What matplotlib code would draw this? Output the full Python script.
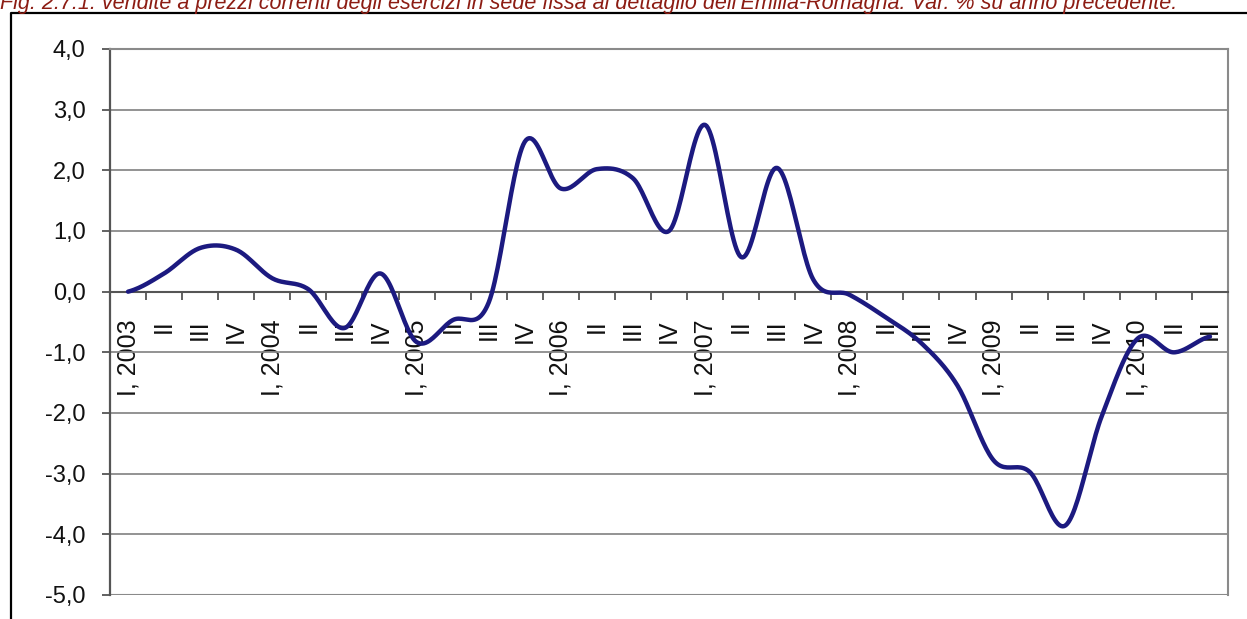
import matplotlib
matplotlib.use("Agg")
import matplotlib.pyplot as plt
from matplotlib.lines import Line2D
import numpy as np

plt.rcParams['font.family'] = ['Liberation Sans', 'DejaVu Sans']
plt.rcParams['axes.unicode_minus'] = False

# quarters I,2003 .. III,2010
quarters = ["I, 2003", "II", "III", "IV",
            "I, 2004", "II", "III", "IV",
            "I, 2005", "II", "III", "IV",
            "I, 2006", "II", "III", "IV",
            "I, 2007", "II", "III", "IV",
            "I, 2008", "II", "III", "IV",
            "I, 2009", "II", "III", "IV",
            "I, 2010", "II", "III"]
# var. % su anno precedente
values = [0.0, 0.3, 0.72, 0.69,
          0.22, 0.04, -0.6, 0.3,
          -0.83, -0.47, -0.18, 2.47,
          1.7, 2.02, 1.87, 1.0,
          2.75, 0.57, 2.04, 0.2,
          -0.05, -0.42, -0.85, -1.55,
          -2.78, -2.97, -3.85, -2.05,
          -0.77, -1.0, -0.74]
y_ticks = [-5, -4, -3, -2, -1, 0, 1, 2, 3, 4]

title = ("Fig. 2.7.1: vendite a prezzi correnti degli esercizi in sede fissa al dettaglio "
         "dell'Emilia-Romagna. Var. % su anno precedente.")


def smooth(x, y, n=24):
    # Catmull-Rom like the Excel "smoothed line"
    x = np.asarray(x, float)
    y = np.asarray(y, float)
    px = np.concatenate([[2 * x[0] - x[1]], x, [2 * x[-1] - x[-2]]])
    py = np.concatenate([[y[0]], y, [y[-1]]])
    xs, ys = [], []
    t = np.linspace(0, 1, n, endpoint=False)
    for i in range(1, len(px) - 2):
        for p, out in ((px, xs), (py, ys)):
            p0, p1, p2, p3 = p[i - 1], p[i], p[i + 1], p[i + 2]
            out.extend(0.5 * (2 * p1 + (-p0 + p2) * t
                              + (2 * p0 - 5 * p1 + 4 * p2 - p3) * t ** 2
                              + (-p0 + 3 * p1 - 3 * p2 + p3) * t ** 3))
    xs.append(x[-1])
    ys.append(y[-1])
    return np.array(xs), np.array(ys)


W, H = 1247, 619
fig = plt.figure(figsize=(W / 100, H / 100), dpi=100)
ax = fig.add_axes([110 / W, (H - 595) / H, (1228 - 110) / W, (595 - 49) / H])

idx = np.arange(len(values))
sx, sy = smooth(idx, values)
ax.plot(sx, sy, color='#1c1a80', lw=3.2, solid_capstyle='round', zorder=3)

ax.set_xlim(-0.5, len(values) - 0.5)
ax.set_ylim(-5, 4)
ax.set_yticks(y_ticks)
ax.set_yticklabels([f"{v:.1f}".replace('.', ',') for v in y_ticks], fontsize=17)
ax.yaxis.grid(True, color='#8a8a8a', lw=1.3)
ax.set_axisbelow(True)

for s in ['top', 'right']:
    ax.spines[s].set_color('#8a8a8a')
    ax.spines[s].set_linewidth(1.5)
ax.spines['left'].set_color('#555555')
ax.spines['left'].set_linewidth(1.6)
ax.spines['bottom'].set_position(('data', 0))
ax.spines['bottom'].set_color('#555555')
ax.spines['bottom'].set_linewidth(1.5)
ax.tick_params(axis='y', length=5.5, width=1.3, color='#555555', pad=12, labelcolor='#111111')

ax.set_xticks(idx)
ax.set_xticklabels(quarters, rotation=90, fontsize=18, color='#111111')
ax.set_xticks(idx[:-1] + 0.5, minor=True)
ax.tick_params(axis='x', which='major', length=0, pad=20)
ax.tick_params(axis='x', which='minor', length=6, width=1.3, color='#555555', direction='out')

# bottom border of the plot area
ax.axhline(-5, color='#8a8a8a', lw=1.5, zorder=2)

# outer frame (top and left)
fig.add_artist(Line2D([11 / W, 11 / W, 1.05], [-0.05, 1 - 13 / H, 1 - 13 / H],
                      transform=fig.transFigure, color='black', lw=1.6))

fig.text(0.0, 1 - 9 / H, title, ha='left', va='baseline', fontsize=15.5,
         style='italic', color='#8c1c13')

fig.savefig("out.png", dpi=100)
